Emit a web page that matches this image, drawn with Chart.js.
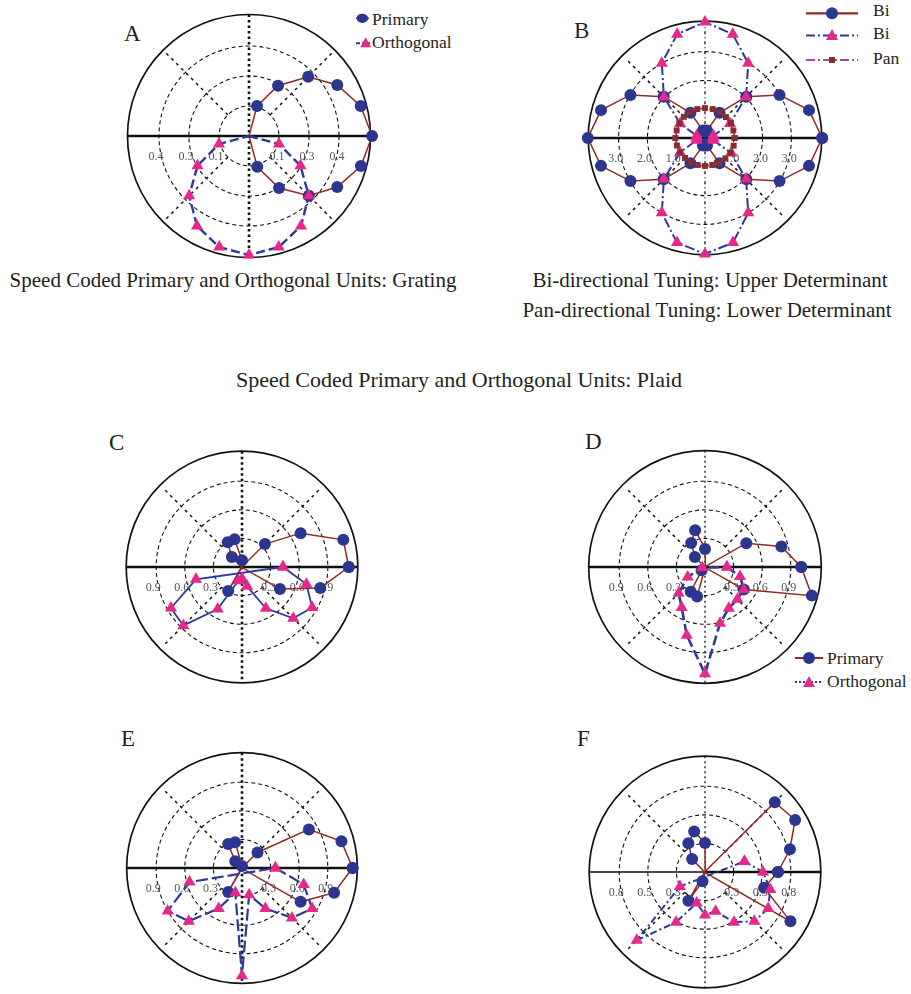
<!DOCTYPE html>
<html lang="en">
<head>
<meta charset="UTF-8">
<title>Speed coded units – polar tuning</title>
<script src="https://cdn.jsdelivr.net/npm/chart.js"></script>
<style>
  html, body { margin: 0; padding: 0; width: 911px; height: 994px; overflow: hidden; background: #fff; }
  body { position: relative; font-family: "Liberation Serif", "DejaVu Serif", serif; color: #231f20; }
  .panel { position: absolute; width: 300px; height: 300px; }
  .txt { position: absolute; white-space: nowrap; line-height: 1; }
  .center { transform: translateX(-50%); }
  .letter { font-size: 23px; }
  .cap { font-size: 21px; }
  .leg { font-size: 17.5px; }
  svg { position: absolute; overflow: visible; }
</style>
</head>
<body>

<!-- panel letters -->
<div class="txt letter" style="left:124px;top:22px">A</div>
<div class="txt letter" style="left:574px;top:19px">B</div>
<div class="txt letter" style="left:109px;top:431px">C</div>
<div class="txt letter" style="left:585px;top:430px">D</div>
<div class="txt letter" style="left:121px;top:727px">E</div>
<div class="txt letter" style="left:577px;top:727px">F</div>

<!-- captions -->
<div class="txt cap center" style="left:233px;top:270px">Speed Coded Primary and Orthogonal Units: Grating</div>
<div class="txt cap center" style="left:710px;top:270px">Bi-directional Tuning: Upper Determinant</div>
<div class="txt cap center" style="left:707px;top:300px">Pan-directional Tuning: Lower Determinant</div>
<div class="txt cap center" style="left:459px;top:369px;font-size:22px">Speed Coded Primary and Orthogonal Units: Plaid</div>

<!-- legend A -->
<svg style="left:350px;top:5px" width="25" height="50">
  <line x1="6" y1="13.3" x2="19" y2="13.3" stroke="#8e2b25" stroke-width="1.5"/>
  <ellipse cx="12.3" cy="13.3" rx="5.8" ry="4.6" fill="#2c3590"/>
  <line x1="6" y1="38.3" x2="20" y2="38.3" stroke="#2b3a98" stroke-width="2" stroke-dasharray="4 2"/>
  <polygon points="15.7,32.3 10.2,42.3 21.2,42.3" fill="#e6288a"/>
</svg>
<div class="txt leg" style="left:372px;top:11px">Primary</div>
<div class="txt leg" style="left:372px;top:34px">Orthogonal</div>

<!-- legend B -->
<svg style="left:800px;top:0px" width="65" height="70">
  <line x1="6" y1="13.3" x2="58" y2="13.3" stroke="#8e2b25" stroke-width="2.2"/>
  <circle cx="32" cy="13.3" r="6" fill="#2c3590"/>
  <line x1="6" y1="35.5" x2="58" y2="35.5" stroke="#2b3a98" stroke-width="2" stroke-dasharray="9 3 2 3"/>
  <polygon points="32,29 26,40 38,40" fill="#e6288a"/>
  <line x1="6" y1="60" x2="58" y2="60" stroke="#a14aa0" stroke-width="2.2" stroke-dasharray="9 3 2 3"/>
  <rect x="29" y="57" width="6" height="6" fill="#8b2c2c"/>
</svg>
<div class="txt leg" style="left:873px;top:2px">Bi</div>
<div class="txt leg" style="left:873px;top:25px">Bi</div>
<div class="txt leg" style="left:873px;top:50px">Pan</div>

<!-- legend D -->
<svg style="left:790px;top:645px" width="40" height="50">
  <line x1="5" y1="13" x2="33" y2="13" stroke="#8e2b25" stroke-width="2"/>
  <circle cx="19" cy="13" r="6" fill="#2c3590"/>
  <line x1="5" y1="37" x2="33" y2="37" stroke="#2b3a98" stroke-width="1.8" stroke-dasharray="2 2"/>
  <polygon points="19,31 13,42 25,42" fill="#e6288a"/>
</svg>
<div class="txt leg" style="left:827px;top:650px">Primary</div>
<div class="txt leg" style="left:827px;top:673px">Orthogonal</div>

<div class="panel" style="left:99px;top:-14.5px"><canvas id="chartA" width="300" height="300"></canvas></div>
<div class="panel" style="left:555px;top:-12px"><canvas id="chartB" width="300" height="300"></canvas></div>
<div class="panel" style="left:91.7px;top:416.7px"><canvas id="chartC" width="300" height="300"></canvas></div>
<div class="panel" style="left:555px;top:416.7px"><canvas id="chartD" width="300" height="300"></canvas></div>
<div class="panel" style="left:91.7px;top:718px"><canvas id="chartE" width="300" height="300"></canvas></div>
<div class="panel" style="left:555px;top:721.5px"><canvas id="chartF" width="300" height="300"></canvas></div>

<script>
// ---- directions (deg) ----
const dirs24 = [0, 15, 30, 45, 60, 75, 90, 105, 120, 135, 150, 165,
                180, 195, 210, 225, 240, 255, 270, 285, 300, 315, 330, 345];
const halfDown = [0, -15, -30, -45, -60, -75, -90, -105, -120, -135, -150, -165];

// ---- A: grating ----
const aPrimAng = [90, 75, 60, 45, 30, 15, 0, -15, -30, -45, -60, -75, -90];
const aPrimVal = [0, 0.138, 0.258, 0.372, 0.453, 0.514, 0.547, 0.515, 0.453, 0.376, 0.267, 0.142, 0];
const aOrthAng = [0, -15, -30, -45, -60, -75, -90, -105, -120, -135, -150, -165, -180];
const aOrthVal = [0, 0.138, 0.264, 0.376, 0.462, 0.511, 0.529, 0.511, 0.462, 0.376, 0.264, 0.138, 0];
const aTicks = [0.133, 0.267, 0.4];
const aTickLabels = ['0.1', '0.3', '0.4'];

// ---- B: bi / pan directional ----
const bBiVal = [4.07, 3.74, 2.99, 2.03, 1.01, 0.27, 0.22, 0.27, 1.01, 2.03, 2.99, 3.74,
                4.07, 3.74, 2.99, 2.03, 1.01, 0.27, 0.22, 0.27, 1.01, 2.03, 2.99, 3.74];
const bBiOrthVal = [0.28, 0.3, 1.0, 2.02, 3.0, 3.73, 4.03, 3.73, 3.0, 2.02, 1.0, 0.3,
                    0.3, 0.3, 1.0, 2.02, 3.0, 3.76, 4.03, 3.76, 3.0, 2.02, 1.05, 0.3];
const bPanVal = [1.03, 1.02, 1.04, 1.03, 1.03, 1.04, 1.04, 1.04, 1.03, 1.04, 1.03, 1.02,
                 1.03, 1.01, 1.0, 0.98, 0.97, 0.97, 0.97, 0.97, 0.99, 1.0, 1.02, 1.03];
const bTicks = [1, 2, 3];
const bTickLabels = ['1.0', '2.0', '3.0'];

// ---- C-F: plaid ----
const cPrimVal = [1.12, 1.10, 0.71, 0.34, 0.01, 0.01, 0.07, 0.30, 0.30, 0.15, 0.01, 0.01,
                  0.01, 0.01, 0.01, 0.01, 0.29, 0.01, 0.01, 0.01, 0.01, 0.01, 0.46, 0.85];
const cOrthVal = [0.43, 0.70, 0.85, 0.76, 0.50, 0.21, 0.12, 0.15, 0.51, 0.87, 0.86, 0.50];

const dPrimVal = [1.01, 0.83, 0.50, 0.01, 0.01, 0.01, 0.19, 0.40, 0.29, 0.15, 0.01, 0.01,
                  0.01, 0.01, 0.01, 0.05, 0.30, 0.32, 0.01, 0.01, 0.01, 0.01, 0.47, 1.16];
const dOrthVal = [0.23, 0.38, 0.47, 0.48, 0.50, 0.61, 1.12, 0.74, 0.49, 0.39, 0.21, 0.03];

const ePrimVal = [1.16, 1.08, 0.81, 0.23, 0.01, 0.01, 0.02, 0.28, 0.29, 0.10, 0.01, 0.01,
                  0.01, 0.01, 0.01, 0.01, 0.29, 0.01, 0.01, 0.01, 0.01, 0.01, 0.71, 1.00];
const eOrthVal = [0.35, 0.67, 0.85, 0.74, 0.49, 0.29, 1.13, 0.27, 0.49, 0.79, 0.90, 0.57];

const fPrimVal = [0.68, 0.82, 0.97, 0.92, 0.01, 0.01, 0.27, 0.39, 0.31, 0.17, 0.01, 0.01,
                  0.01, 0.01, 0.01, 0.01, 0.31, 0.09, 0.01, 0.01, 0.01, 0.01, 0.92, 0.57];
const fOrthAng = [15, 0, -15, -30, -45, -60, -75, -90, -105, -120, -135, -150];
const fOrthVal = [0.38, 0.54, 0.63, 0.68, 0.65, 0.54, 0.38, 0.40, 0.30, 0.54, 0.90, 0.27];

const plaidTicks = [0.3, 0.6, 0.9];
const plaidTickLabels = ['0.3', '0.6', '0.9'];
const fTicks = [0.267, 0.533, 0.8];
const fTickLabels = ['0.3', '0.5', '0.8'];

// ---- colours ----
const NAVY = '#2c3590', PINK = '#e6288a', RED = '#8e2b25', BLUE = '#2b3a98';

function toXY(angles, values, close) {
  const pts = angles.map((a, i) => ({
    x: values[i] * Math.cos(a * Math.PI / 180),
    y: values[i] * Math.sin(a * Math.PI / 180),
    r: values[i]
  }));
  return close ? pts.concat([pts[0]]) : pts;
}

// draws rings, spokes, axes and tick labels under the data
const polarGrid = {
  id: 'polarGrid',
  beforeDatasetsDraw(chart, args, o) {
    const { ctx, scales: { x, y } } = chart;
    const cx = x.getPixelForValue(0), cy = y.getPixelForValue(0);
    const px = v => Math.abs(x.getPixelForValue(v) - cx);
    const R = px(o.outer);
    ctx.save();
    ctx.strokeStyle = '#111';

    ctx.lineWidth = 1.1;
    ctx.setLineDash([4, 3]);
    o.ticks.forEach(v => { ctx.beginPath(); ctx.arc(cx, cy, px(v), 0, 2 * Math.PI); ctx.stroke(); });

    ctx.lineWidth = 1.5;
    ctx.setLineDash([3, 4]);
    const r0 = px(o.ticks[0]);
    [45, 135, 225, 315].forEach(a => {
      const c = Math.cos(a * Math.PI / 180), s = Math.sin(a * Math.PI / 180);
      ctx.beginPath();
      ctx.moveTo(cx + c * r0, cy - s * r0);
      ctx.lineTo(cx + c * (R - 4), cy - s * (R - 4));
      ctx.stroke();
    });

    ctx.lineWidth = o.vWidth;
    ctx.setLineDash(o.vDash);
    ctx.beginPath(); ctx.moveTo(cx, cy - R); ctx.lineTo(cx, cy + R); ctx.stroke();

    ctx.setLineDash([]);
    ctx.lineWidth = o.hLeft;
    ctx.beginPath(); ctx.moveTo(cx - R, cy); ctx.lineTo(cx, cy); ctx.stroke();
    ctx.lineWidth = 2.6;
    ctx.beginPath(); ctx.moveTo(cx, cy); ctx.lineTo(cx + R, cy); ctx.stroke();

    ctx.lineWidth = 1.7;
    ctx.beginPath(); ctx.arc(cx, cy, R, 0, 2 * Math.PI); ctx.stroke();

    ctx.fillStyle = '#555';
    ctx.font = '12px "Liberation Serif"';
    ctx.textAlign = 'center';
    o.ticks.forEach((v, i) => {
      const r = px(v);
      ctx.fillText(o.labels[i], cx + r - 2, cy + 24);
      ctx.fillText(o.labels[i], cx - r - 3, cy + 24);
    });
    ctx.restore();
  }
};

const hideZero = size => c => (c.raw && c.raw.r < 0.015) ? 0 : size;

function circles(pts, order) {
  return {
    data: pts, showLine: true, order,
    borderColor: RED, borderWidth: 1.5,
    pointStyle: 'circle', pointRadius: hideZero(6),
    pointBackgroundColor: NAVY, pointBorderColor: NAVY, pointBorderWidth: 0
  };
}
function triangles(pts, dash, width, order) {
  return {
    data: pts, showLine: true, order,
    borderColor: BLUE, borderWidth: width, borderDash: dash,
    pointStyle: 'triangle', pointRadius: hideZero(7),
    pointBackgroundColor: PINK, pointBorderColor: PINK, pointBorderWidth: 0
  };
}

function polarChart(id, datasets, ppu, rOuter, ticks, labels, vWidth, vDash, hLeft) {
  const V = 150 / ppu;
  new Chart(document.getElementById(id), {
    type: 'scatter',
    data: { datasets: datasets.map(d => Object.assign({ clip: false, tension: 0 }, d)) },
    options: {
      responsive: false, animation: false, devicePixelRatio: 1,
      layout: { padding: 0 },
      scales: {
        x: { display: false, min: -V, max: V },
        y: { display: false, min: -V, max: V }
      },
      plugins: {
        legend: { display: false }, tooltip: { enabled: false },
        polarGrid: { outer: rOuter / ppu, ticks, labels, vWidth, vDash, hLeft }
      }
    },
    plugins: [polarGrid]
  });
}

polarChart('chartA', [
  triangles(toXY(aOrthAng, aOrthVal, false), [9, 4], 2.4, 0),
  circles(toXY(aPrimAng, aPrimVal, false), 1)
], 225, 121.5, aTicks, aTickLabels, 2.6, [2.5, 3], 2.6);

polarChart('chartB', [
  { data: toXY(dirs24, bPanVal, true), showLine: true, order: 0,
    borderColor: '#a14aa0', borderWidth: 2, borderDash: [6, 2, 2, 2],
    pointStyle: 'rect', pointRadius: 4.2,
    pointBackgroundColor: '#8b2c2c', pointBorderColor: '#8b2c2c', pointBorderWidth: 0 },
  triangles(toXY(dirs24, bBiOrthVal, true), [10, 3, 2, 3], 2, 1),
  circles(toXY(dirs24, bBiVal, true), 2)
], 30.2, 122.5, bTicks, bTickLabels, 1.3, [3, 3, 1, 3], 2.6);

polarChart('chartC', [
  triangles(toXY(halfDown, cOrthVal, true), [], 1.8, 0),
  circles(toXY(dirs24, cPrimVal, true), 1)
], 100, 121.5, plaidTicks, plaidTickLabels, 2.6, [2.5, 3], 2.6);

polarChart('chartD', [
  triangles(toXY(halfDown, dOrthVal, true), [10, 4], 2.6, 0),
  circles(toXY(dirs24, dPrimVal, true), 1)
], 100, 122, plaidTicks, plaidTickLabels, 1.3, [2, 3], 2.6);

polarChart('chartE', [
  triangles(toXY(halfDown, eOrthVal, true), [12, 4], 2.2, 0),
  circles(toXY(dirs24, ePrimVal, true), 1)
], 100, 121, plaidTicks, plaidTickLabels, 2.6, [2.5, 3], 2.6);

polarChart('chartF', [
  triangles(toXY(fOrthAng, fOrthVal, true), [7, 3, 2, 3], 2, 0),
  circles(toXY(dirs24, fPrimVal, true), 1)
], 112.5, 121.5, fTicks, fTickLabels, 1.3, [2, 3], 1.5);
</script>
</body>
</html>
